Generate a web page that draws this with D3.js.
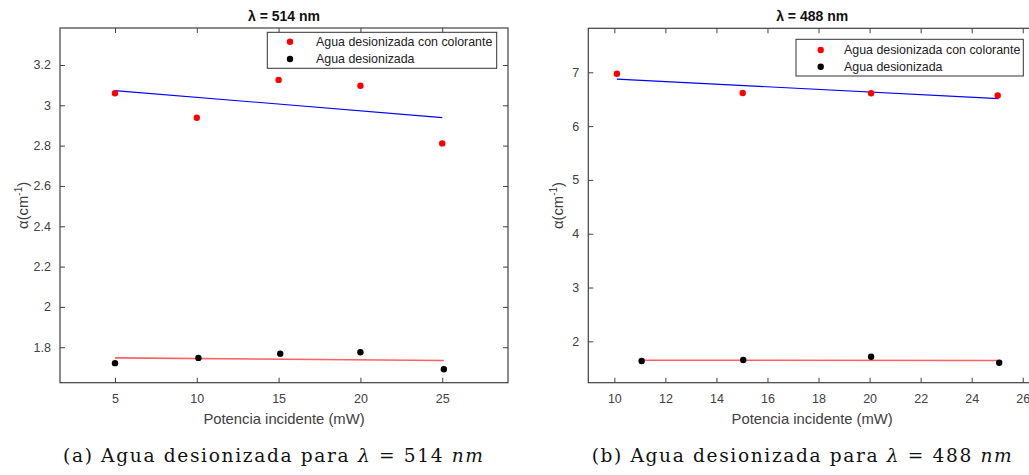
<!DOCTYPE html>
<html>
<head>
<meta charset="utf-8">
<script src="https://cdn.jsdelivr.net/npm/d3@7"></script>
<style>
  html, body { margin: 0; padding: 0; background: #fff; }
  svg { display: block; }
  text { font-family: "Liberation Sans", Arial, Helvetica, sans-serif; fill: #404040; }
</style>
</head>
<body>
<svg id="fig" width="1029" height="475"></svg>
<script>
// ---- Panel (a): lambda = 514 nm ----
const power514Dye   = [5, 10, 15, 20, 25];
const alpha514Dye   = [3.060, 2.938, 3.126, 3.097, 2.811];
const power514Water = [5, 10.1, 15.1, 20, 25.1];
const alpha514Water = [1.721, 1.747, 1.768, 1.775, 1.691];
// linear fits (end points)
const fit514DyeX   = [5, 25];
const fit514DyeY   = [3.073, 2.939];
const fit514WaterX = [5, 25.1];
const fit514WaterY = [1.747, 1.734];
const xTicks514 = [5, 10, 15, 20, 25];
const yTicks514 = [1.8, 2.0, 2.2, 2.4, 2.6, 2.8, 3.0, 3.2];
const yTickLabels514 = ["1.8", "2", "2.2", "2.4", "2.6", "2.8", "3", "3.2"];

// ---- Panel (b): lambda = 488 nm ----
const power488Dye   = [10.1, 15.03, 20.06, 25.02];
const alpha488Dye   = [6.974, 6.615, 6.610, 6.570];
const power488Water = [11.07, 15.05, 20.06, 25.08];
const alpha488Water = [1.634, 1.652, 1.714, 1.602];
const fit488DyeX   = [10.1, 25.05];
const fit488DyeY   = [6.874, 6.510];
const fit488WaterX = [11.07, 25.05];
const fit488WaterY = [1.649, 1.645];
const xTicks488 = [10, 12, 14, 16, 18, 20, 22, 24, 26];
const yTicks488 = [2, 3, 4, 5, 6, 7];
const yTickLabels488 = ["2", "3", "4", "5", "6", "7"];

const seriesNames = ["Agua desionizada con colorante", "Agua desionizada"];
const seriesColors = ["#ff0000", "#000000"];
const fitColors = ["#0000ff", "#ff6060"];
const xLabel = "Potencia incidente (mW)";

const svg = d3.select("#fig");

const panels = [
  {
    title: "\u03bb = 514 nm",
    captionPrefix: "(a) Agua desionizada para ", wl: "514",
    box: { left: 60, right: 508, top: 28, bottom: 382.7 },
    xDomain: [1.64, 29.02], yDomain: [1.624, 3.3835],
    xTicks: xTicks514, yTicks: yTicks514, yTickLabels: yTickLabels514,
    dye: [power514Dye, alpha514Dye], water: [power514Water, alpha514Water],
    fitDye: [fit514DyeX, fit514DyeY], fitWater: [fit514WaterX, fit514WaterY],
    legend: { x0: 267.3, x1: 496.7, y0: 32.3, y1: 68.3, mx: 290, tx: 316, y: [41.7, 59] },
    yLabelX: 22.5, captionX: 273
  },
  {
    title: "\u03bb = 488 nm",
    captionPrefix: "(b) Agua desionizada para ", wl: "488",
    box: { left: 588.3, right: 1036, top: 28.3, bottom: 382.7 },
    xDomain: [8.98, 26.52], yDomain: [1.231, 7.818],
    xTicks: xTicks488, yTicks: yTicks488, yTickLabels: yTickLabels488,
    dye: [power488Dye, alpha488Dye], water: [power488Water, alpha488Water],
    fitDye: [fit488DyeX, fit488DyeY], fitWater: [fit488WaterX, fit488WaterY],
    legend: { x0: 796, x1: 1023.3, y0: 39.3, y1: 76, mx: 820.7, tx: 844, y: [50, 66.7] },
    yLabelX: 558, captionX: 801.7
  }
];

panels.forEach(p => {
  const b = p.box;
  const x = d3.scaleLinear().domain(p.xDomain).range([b.left, b.right]);
  const y = d3.scaleLinear().domain(p.yDomain).range([b.bottom, b.top]);
  const g = svg.append("g");

  // axes with inward ticks on all four sides
  const tickLen = 5;
  const styleAxis = sel => {
    sel.select(".domain").remove();
    sel.selectAll(".tick line").attr("stroke", "#404040").attr("stroke-width", 1);
    sel.selectAll(".tick text").attr("fill", "#404040")
      .style("font-size", "12.5px").style("font-family", "Liberation Sans, Arial, sans-serif");
  };
  g.append("g").attr("transform", `translate(0,${b.bottom})`)
    .call(d3.axisBottom(x).tickValues(p.xTicks).tickSize(-tickLen).tickPadding(11).tickFormat(d3.format("d")))
    .call(styleAxis);
  g.append("g").attr("transform", `translate(0,${b.top})`)
    .call(d3.axisTop(x).tickValues(p.xTicks).tickSize(-tickLen).tickFormat(""))
    .call(styleAxis);
  g.append("g").attr("transform", `translate(${b.left},0)`)
    .call(d3.axisLeft(y).tickValues(p.yTicks).tickSize(-tickLen).tickPadding(9)
      .tickFormat((d, i) => p.yTickLabels[i]))
    .call(styleAxis);
  g.append("g").attr("transform", `translate(${b.right},0)`)
    .call(d3.axisRight(y).tickValues(p.yTicks).tickSize(-tickLen).tickFormat(""))
    .call(styleAxis);

  g.append("rect")
    .attr("x", b.left).attr("y", b.top)
    .attr("width", b.right - b.left).attr("height", b.bottom - b.top)
    .attr("fill", "none").attr("stroke", "#404040").attr("stroke-width", 1.2);

  // fit lines
  const line = d3.line().x(d => x(d[0])).y(d => y(d[1]));
  [p.fitDye, p.fitWater].forEach((f, i) => {
    g.append("path")
      .datum(f[0].map((v, k) => [v, f[1][k]]))
      .attr("d", line)
      .attr("fill", "none")
      .attr("stroke", fitColors[i])
      .attr("stroke-width", i === 0 ? 1.1 : 1.6);
  });

  // data points
  [p.dye, p.water].forEach((s, i) => {
    g.append("g").selectAll("circle")
      .data(s[0].map((v, k) => [v, s[1][k]]))
      .join("circle")
      .attr("cx", d => x(d[0])).attr("cy", d => y(d[1]))
      .attr("r", 3.2)
      .attr("fill", seriesColors[i]);
  });

  // title
  g.append("text")
    .attr("x", (b.left + b.right) / 2).attr("y", 20.7)
    .attr("text-anchor", "middle")
    .style("font-size", "14px").style("font-weight", "bold")
    .style("fill", "#111")
    .text(p.title);

  // x label
  g.append("text")
    .attr("x", (b.left + b.right) / 2).attr("y", 424)
    .attr("text-anchor", "middle")
    .style("font-size", "14.8px")
    .text(xLabel);

  // y label
  const yl = g.append("text")
    .attr("transform", `translate(${p.yLabelX + 5},${(b.top + b.bottom) / 2}) rotate(-90)`)
    .attr("text-anchor", "middle")
    .style("font-size", "14.8px");
  yl.append("tspan").text("\u03b1(cm");
  yl.append("tspan").attr("dy", -6).style("font-size", "10px").text("-1");
  yl.append("tspan").attr("dy", 6).text(")");

  // legend
  const L = p.legend;
  g.append("rect")
    .attr("x", L.x0).attr("y", L.y0)
    .attr("width", L.x1 - L.x0).attr("height", L.y1 - L.y0)
    .attr("fill", "#fff").attr("stroke", "#333").attr("stroke-width", 1);
  seriesNames.forEach((name, i) => {
    g.append("circle").attr("cx", L.mx).attr("cy", L.y[i]).attr("r", 3.2).attr("fill", seriesColors[i]);
    g.append("text")
      .attr("x", L.tx).attr("y", L.y[i]).attr("dy", "0.36em")
      .style("font-size", "12.4px").style("fill", "#222")
      .text(name);
  });

  // caption
  const cap = svg.append("text")
    .attr("x", p.captionX).attr("y", 462)
    .attr("text-anchor", "middle")
    .attr("textLength", 420).attr("lengthAdjust", "spacing")
    .style("font-family", "DejaVu Serif, Liberation Serif, serif")
    .style("font-size", "18.6px").style("fill", "#111");
  cap.append("tspan").text(p.captionPrefix);
  cap.append("tspan").style("font-style", "italic").text("\u03bb");
  cap.append("tspan").text(" = " + p.wl + " ");
  cap.append("tspan").style("font-style", "italic").text("nm");
});
</script>
</body>
</html>
